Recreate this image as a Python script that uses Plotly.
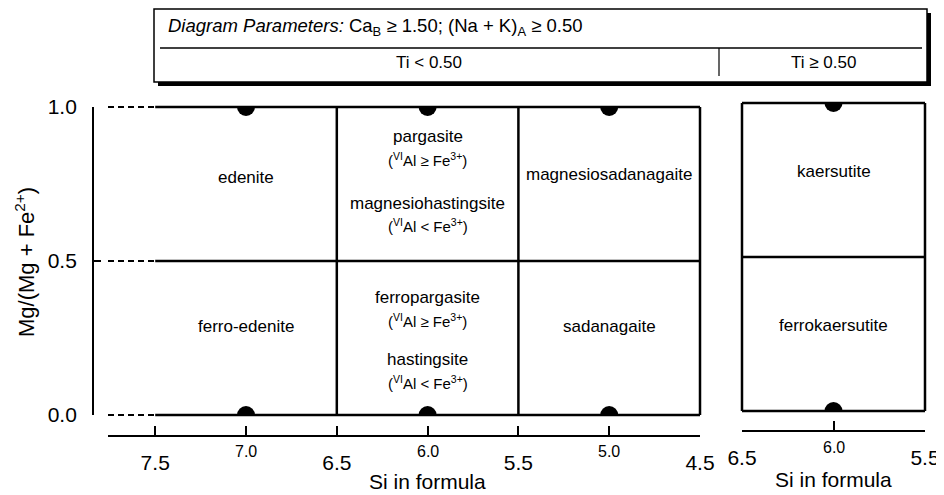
import plotly.graph_objects as go

# ---------------- data ----------------
si_major_left = [7.5, 6.5, 5.5, 4.5]
si_minor_left = [7.0, 6.0, 5.0]
si_major_right = [6.5, 5.5]
si_minor_right = [6.0]
mg_ticks = [0.0, 0.5, 1.0]
mg_tick_text = ["0.0", "0.5", "1.0"]

# field boundaries (Si, Mg/(Mg+Fe2+))
left_h_levels = [0.0, 0.5, 1.0]
left_si_solid = [7.5, 4.5]
left_si_dash = [7.76, 7.5]
left_v_si = [6.5, 5.5, 4.5]
right_h_levels = [0.0, 0.5, 1.0]
right_v_si = [6.5, 5.5]

# end-member points
dots_left_si = [7.0, 6.0, 5.0, 7.0, 6.0, 5.0]
dots_left_mg = [1.0, 1.0, 1.0, 0.0, 0.0, 0.0]
dots_right_si = [6.0, 6.0]
dots_right_mg = [1.0, 0.0]

# field names: (text, Si, Mg#, font size)
left_labels = [
    ("edenite", 7.0, 0.77, 17),
    ("ferro-edenite", 7.0, 0.286, 17),
    ("pargasite", 6.0, 0.905, 17),
    ("(<sup>VI</sup>Al ≥ Fe<sup>3+</sup>)", 6.0, 0.828, 15),
    ("magnesiohastingsite", 6.0, 0.688, 17),
    ("(<sup>VI</sup>Al < Fe<sup>3+</sup>)", 6.0, 0.614, 15),
    ("ferropargasite", 6.0, 0.383, 17),
    ("(<sup>VI</sup>Al ≥ Fe<sup>3+</sup>)", 6.0, 0.308, 15),
    ("hastingsite", 6.0, 0.179, 17),
    ("(<sup>VI</sup>Al < Fe<sup>3+</sup>)", 6.0, 0.104, 15),
    ("magnesiosadanagaite", 5.0, 0.78, 17),
    ("sadanagaite", 5.0, 0.286, 17),
]
right_labels = [
    ("kaersutite", 6.0, 0.776, 17),
    ("ferrokaersutite", 6.0, 0.276, 17),
]

header_title = "<i>Diagram Parameters:</i> Ca<sub>B</sub> ≥ 1.50; (Na + K)<sub>A</sub> ≥ 0.50"
header_left = "Ti < 0.50"
header_right = "Ti ≥ 0.50"
x_title = "Si in formula"
y_title = "Mg/(Mg + Fe<sup>2+</sup>)"

# ---------------- layout geometry (page pixels) ----------------
PAGE_W, PAGE_H = 944, 495
OFF = 8                      # default body margin of the page
W, H = PAGE_W - OFF, PAGE_H - OFF
FONT = "Liberation Sans, Arial, Helvetica, sans-serif"


def fx(px):
    return (px - OFF) / W


def fy(py):
    return 1 - (py - OFF) / H


L_X0, L_X1 = 108, 700
L_RANGE = [7.76, 4.5]
L_Y0, L_Y1 = 415, 107
R_X0, R_X1 = 742, 925
R_RANGE = [6.5, 5.5]
R_Y0, R_Y1 = 411, 103
PAD = 0.05


def padded(px0, px1, rng):
    ppu = (px1 - px0) / abs(rng[1] - rng[0])
    p = PAD * ppu
    sign = 1 if rng[0] < rng[1] else -1
    return [px0 - p, px1 + p], [rng[0] - sign * PAD, rng[1] + sign * PAD]


fig = go.Figure()

LINE_W = 2.5


def add_lines(xs, ys, xa, ya):
    fig.add_trace(go.Scatter(x=xs, y=ys, mode="lines", xaxis=xa, yaxis=ya,
                             line=dict(color="black", width=LINE_W),
                             hoverinfo="skip", showlegend=False))


# left panel boundaries (padded overlay axes x3/y3)
xs, ys = [], []
for lv in left_h_levels:
    xs += [left_si_solid[0], left_si_solid[1], None]
    ys += [lv, lv, None]
for v in left_v_si:
    xs += [v, v, None]
    ys += [left_h_levels[0], left_h_levels[-1], None]
add_lines(xs, ys, "x3", "y3")
xs, ys = [], []
for lv in left_h_levels:
    xs += [left_si_dash[0], left_si_dash[1], None]
    ys += [lv, lv, None]
fig.add_trace(go.Scatter(x=xs, y=ys, mode="lines", xaxis="x3", yaxis="y3",
                         line=dict(color="black", width=2.2, dash="6px,4px"),
                         hoverinfo="skip", showlegend=False))

# right panel boundaries (padded overlay axes x4/y4)
xs, ys = [], []
for lv in right_h_levels:
    xs += [right_v_si[0], right_v_si[1], None]
    ys += [lv, lv, None]
for v in right_v_si:
    xs += [v, v, None]
    ys += [right_h_levels[0], right_h_levels[-1], None]
add_lines(xs, ys, "x4", "y4")

# dots (clipped to the field boxes -> half discs)
fig.add_trace(go.Scatter(x=dots_left_si, y=dots_left_mg, mode="markers", xaxis="x", yaxis="y",
                         marker=dict(size=18, color="black"), cliponaxis=True,
                         hoverinfo="skip", showlegend=False))
fig.add_trace(go.Scatter(x=dots_right_si, y=dots_right_mg, mode="markers", xaxis="x2", yaxis="y2",
                         marker=dict(size=18, color="black"), cliponaxis=True,
                         hoverinfo="skip", showlegend=False))


def A(text, x, y, xref, yref, size, xanchor="center", yanchor="middle", **kw):
    return dict(text=text, x=x, y=y, xref=xref, yref=yref, showarrow=False,
                xanchor=xanchor, yanchor=yanchor,
                font=dict(size=size, color="black", family=FONT), **kw)


ann = []
for t, x, y, s in left_labels:
    ann.append(A(t, x, y, "x", "y", s))
for t, x, y, s in right_labels:
    ann.append(A(t, x, y, "x2", "y2", s))
# minor (raised, smaller) tick labels
for v in si_minor_left:
    ann.append(A(f"{v:.1f}", v, fy(451), "x", "paper", 16))
for v in si_minor_right:
    ann.append(A(f"{v:.1f}", v, fy(447), "x2", "paper", 16))
# axis titles
ann.append(A(x_title, 6.0, fy(481), "x", "paper", 21))
ann.append(A(x_title, 6.0, fy(479), "x2", "paper", 21))
ann.append(A(y_title, fx(25), fy(262), "paper", "paper", 22, textangle=-90))
# header texts
ann.append(A(header_title, fx(166), fy(27), "paper", "paper", 18.5, xanchor="left"))
ann.append(A(header_left, fx(429), fy(63), "paper", "paper", 17))
ann.append(A(header_right, fx(823), fy(63), "paper", "paper", 17))

shapes = [
    # header shadow + box
    dict(type="rect", xref="paper", yref="paper", x0=fx(158), x1=fx(931), y0=fy(86), y1=fy(13),
         fillcolor="black", line=dict(width=0), layer="below"),
    dict(type="rect", xref="paper", yref="paper", x0=fx(154), x1=fx(927), y0=fy(82), y1=fy(9),
         fillcolor="white", line=dict(color="black", width=1.5), layer="below"),
    dict(type="line", xref="paper", yref="paper", x0=fx(160), x1=fx(922), y0=fy(48), y1=fy(48),
         line=dict(color="black", width=1.5)),
    dict(type="line", xref="paper", yref="paper", x0=fx(719), x1=fx(719), y0=fy(48), y1=fy(76),
         line=dict(color="black", width=1.2)),
]

ldom3, lrng3 = padded(L_X0, L_X1, L_RANGE)
lydom3, lyrng3 = padded(L_Y1, L_Y0, [1, 0])
rdom4, rrng4 = padded(R_X0, R_X1, R_RANGE)
rydom4, ryrng4 = padded(R_Y1, R_Y0, [1, 0])

axis_common = dict(showgrid=False, zeroline=False, fixedrange=True, automargin=False)
tick_common = dict(showline=True, linecolor="black", linewidth=1.8, ticks="inside",
                   tickcolor="black", tickwidth=1.8,
                   tickfont=dict(size=21, color="black", family=FONT))

fig.update_layout(
    template="none",
    width=W, height=H,
    margin=dict(l=0, r=0, t=0, b=0, pad=0, autoexpand=False),
    paper_bgcolor="white", plot_bgcolor="rgba(0,0,0,0)",
    font=dict(family=FONT, color="black"),
    showlegend=False,
    xaxis=dict(domain=[fx(L_X0), fx(L_X1)], range=L_RANGE, anchor="free", position=fy(436),
               tickvals=si_major_left + si_minor_left,
               ticktext=[f"{v:.1f}" for v in si_major_left] + ["" for _ in si_minor_left],
               ticklen=9, ticklabelstandoff=8, **tick_common, **axis_common),
    yaxis=dict(domain=[fy(L_Y0), fy(L_Y1)], range=[0, 1], anchor="free", position=fx(93),
               tickvals=mg_ticks, ticktext=mg_tick_text, ticklen=7, ticklabelstandoff=11,
               **tick_common, **axis_common),
    xaxis2=dict(domain=[fx(R_X0), fx(R_X1)], range=R_RANGE, anchor="free", position=fy(431),
                tickvals=si_major_right + si_minor_right,
                ticktext=[f"{v:.1f}" for v in si_major_right] + ["" for _ in si_minor_right],
                ticklen=9, ticklabelstandoff=8, **tick_common, **axis_common),
    yaxis2=dict(domain=[fy(R_Y0), fy(R_Y1)], range=[0, 1], anchor="x2", visible=False, **axis_common),
    xaxis3=dict(domain=[fx(ldom3[0]), fx(ldom3[1])], range=lrng3, anchor="y3", visible=False, **axis_common),
    yaxis3=dict(domain=[fy(lydom3[1]), fy(lydom3[0])], range=[lyrng3[1], lyrng3[0]], anchor="x3",
                visible=False, **axis_common),
    xaxis4=dict(domain=[fx(rdom4[0]), fx(rdom4[1])], range=rrng4, anchor="y4", visible=False, **axis_common),
    yaxis4=dict(domain=[fy(rydom4[1]), fy(rydom4[0])], range=[ryrng4[1], ryrng4[0]], anchor="x4",
                visible=False, **axis_common),
    annotations=ann,
    shapes=shapes,
)

fig.write_html("out.html", config={"displayModeBar": False})
